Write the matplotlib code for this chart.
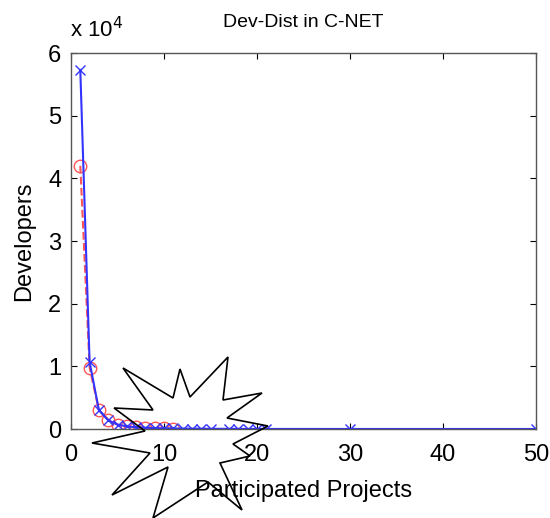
import matplotlib.pyplot as plt
from matplotlib.patches import Polygon
from matplotlib.ticker import FuncFormatter

plt.rcParams['font.family'] = ['Liberation Sans', 'DejaVu Sans']

# participated projects vs developers
x_blue = [1, 2, 3, 4, 5, 6, 7, 8, 9, 10, 11, 12, 13, 14, 15, 17, 18, 19, 20, 21, 30, 50]
y_blue = [57300, 10700, 3000, 1400, 700, 420, 280, 200, 150, 110, 90, 70, 55, 45, 35, 25, 20, 16, 12, 10, 4, 1]

x_red = [1, 2, 3, 4, 5, 6, 7, 8, 9, 10, 11]
y_red = [42000, 9800, 3000, 1500, 700, 400, 250, 170, 120, 90, 70]

# starburst overlay, in figure pixels (from top-left)
burst = [(123, 368), (173, 398), (180, 369), (190, 397), (228, 357), (223, 400),
         (262, 393), (227, 418), (268, 426), (233, 444), (250, 456), (220, 463),
         (242, 510), (208, 482), (153, 518), (168, 467), (112, 495), (150, 453),
         (92, 443), (145, 431), (114, 408), (153, 410)]

W, H = 550, 518
fig = plt.figure(figsize=(W / 100, H / 100), dpi=100)
ax = fig.add_axes([71 / W, 1 - 429 / H, (536 - 71) / W, (429 - 53) / H])

ax.plot(x_red, y_red, color='#ff5555', linestyle='--', linewidth=1.5,
        marker='o', markersize=9, markerfacecolor='none', markeredgewidth=1)
ax.plot(x_blue, y_blue, color='#3333ff', linewidth=1.5,
        marker='x', markersize=7, markeredgewidth=1)

ax.set_xlim(0, 50)
ax.set_ylim(0, 60000)
ax.set_xticks([0, 10, 20, 30, 40, 50])
ax.set_yticks([0, 10000, 20000, 30000, 40000, 50000, 60000])
ax.yaxis.set_major_formatter(FuncFormatter(lambda v, p: '%d' % round(v / 1e4)))
ax.tick_params(direction='in', length=4, labelsize=17, top=True, right=True)
ax.tick_params(axis='x', pad=11)
ax.tick_params(axis='y', pad=7)
for s in ax.spines.values():
    s.set_color('#555555')
    s.set_linewidth(1)

ax.set_title('Dev-Dist in C-NET', fontsize=14, pad=19)
ax.set_xlabel('Participated Projects', fontsize=17, labelpad=10)
ax.set_ylabel('Developers', fontsize=17, labelpad=9)
fig.text(70 / W, 1 - 30 / H, 'x 10$^{4}$', fontsize=16, ha='left', va='center')

pts = [(px / W, 1 - py / H) for px, py in burst]
fig.patches.append(Polygon(pts, closed=True, fill=False, edgecolor='black',
                           linewidth=1.2, transform=fig.transFigure))

fig.savefig('out.png', dpi=100)
